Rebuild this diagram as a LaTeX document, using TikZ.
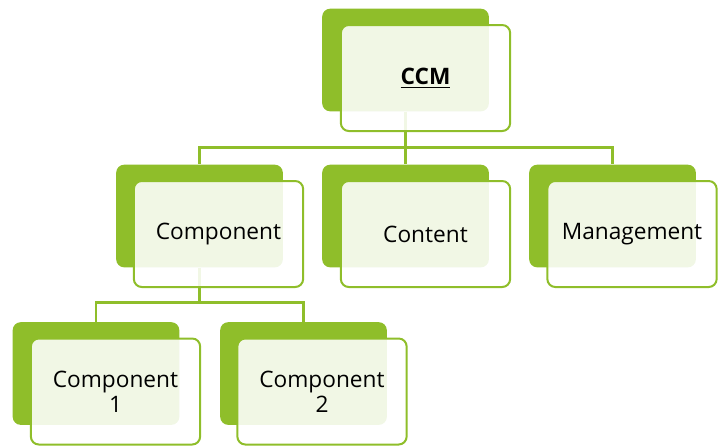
\documentclass[tikz,border=0pt]{standalone}
\usepackage{fontspec}
\setmainfont{Open Sans}
\usetikzlibrary{backgrounds}

\definecolor{leaf}{HTML}{8FBE2A}

\tikzset{
  backbox/.style={fill=leaf, rounded corners=6pt, inner sep=0pt,
    minimum width=125pt, minimum height=77pt},
  frontbox/.style={draw=leaf, line width=1.5pt, fill=white, fill opacity=0.88,
    text opacity=1, rounded corners=6pt, inner sep=0pt, align=center,
    minimum width=127pt, minimum height=79.5pt,
    font=\fontsize{17}{19}\selectfont},
  conn/.style={draw=leaf, line width=2pt}
}

\begin{document}
\begin{tikzpicture}[x=0.75pt, y=-0.75pt]
            \useasboundingbox (0,0) rectangle (725,447);
            % Riquadri di sfondo
            \node[backbox] (ccmb) at (405.5,60) {};
            \node[backbox] (compb) at (199.5,216) {};
            \node[backbox] (contb) at (405.5,216) {};
            \node[backbox] (mgmtb) at (612.5,216) {};
            \node[backbox] (compab) at (96,373.5) {};
            \node[backbox] (compbb) at (303.5,373.5) {};
            % Collegamenti
            \begin{scope}[on background layer]
            \draw[conn] (ccmb.south) -- ++(0,36) -| (compb.north);
            \draw[conn] (ccmb.south) -- ++(0,36) -| (mgmtb.north);
            \draw[conn] (ccmb.south) -- (contb.north);
            \draw[conn] (compb.south) -- ++(0,35) -| (compab.north);
            \draw[conn] (compb.south) -- ++(0,35) -| (compbb.north);
            \end{scope}
            % Riquadri in primo piano
            \node[frontbox] (ccm) at (425.5,78) {\underline{\textbf{CCM}}};
            \node[frontbox] (comp) at (218.5,234) {Component};
            \node[frontbox] (cont) at (425.5,234) {Content};
            \node[frontbox] (mgmt) at (632,234) {Management};
            \node[frontbox] (compa) at (115.5,391.5) {Component\\1};
            \node[frontbox] (compbx) at (322,391.5) {Component\\2};
        \end{tikzpicture}
\end{document}
